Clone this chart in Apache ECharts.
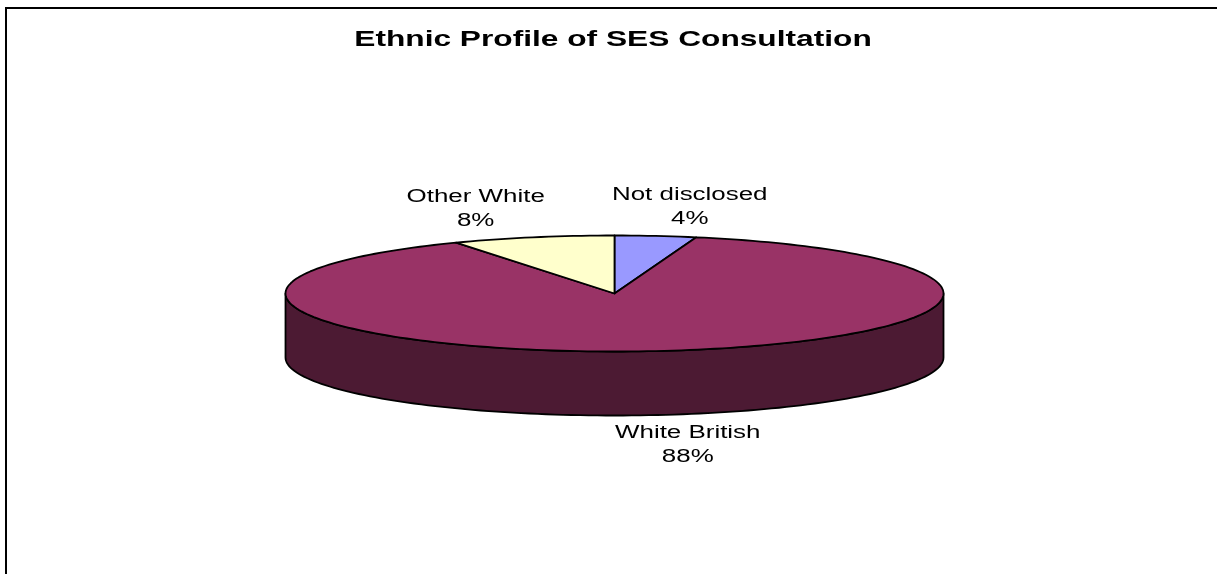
<!DOCTYPE html>
<html>
<head>
<meta charset="utf-8">
<title>Ethnic Profile of SES Consultation</title>
<script src="https://cdn.jsdelivr.net/npm/echarts@6/dist/echarts.min.js"></script>
<style>
  html, body { margin: 0; padding: 0; background: #fff; }
  #chart { width: 1217px; height: 574px; }
</style>
</head>
<body>
<div id="chart"></div>
<script>
// Slices run clockwise from twelve o'clock.
const categories = ['Not disclosed', 'White British', 'Other White'];
const shares = [4, 88, 8];

const topColors = ['#9999FF', '#993366', '#FFFFCC'];
const wallColors = ['#4D4D80', '#4C1A33', '#808066'];
const labelOffsets = [[34, -28.5], [32, 93.5], [-57, -28]];

const disc = { cx: 614.5, cy: 293.5, rx: 329, ry: 58, depth: 64 };
const textStretch = 1.44;
const total = shares.reduce((a, b) => a + b, 0);

function rimPoint(deg, drop) {
  const t = deg * Math.PI / 180;
  return [disc.cx + disc.rx * Math.sin(t), disc.cy + drop - disc.ry * Math.cos(t)];
}

function sliceRange(index) {
  let before = 0;
  for (let i = 0; i < index; i++) before += shares[i];
  return [before / total * 360, (before + shares[index]) / total * 360];
}

function arc(from, to, drop) {
  const pts = [];
  const steps = Math.max(2, Math.ceil((to - from) / 1.5));
  for (let i = 0; i <= steps; i++) pts.push(rimPoint(from + (to - from) * i / steps, drop));
  return pts;
}

// Visible part of the cylinder wall: only the front half of the rim.
function renderWall(params, api) {
  const i = api.value(0);
  const [a, b] = sliceRange(i);
  const from = Math.max(a, 90), to = Math.min(b, 270);
  if (to <= from) return null;
  const points = arc(from, to, 0).concat(arc(from, to, disc.depth).reverse());
  return {
    type: 'polygon',
    shape: { points },
    style: { fill: wallColors[i], stroke: '#000', lineWidth: 1.8, lineJoin: 'round' }
  };
}

function renderTop(params, api) {
  const i = api.value(0);
  const [a, b] = sliceRange(i);
  const points = [[disc.cx, disc.cy]].concat(arc(a, b, 0));
  const mid = rimPoint((a + b) / 2, 0);
  const [dx, dy] = labelOffsets[i];
  return {
    type: 'group',
    children: [
      {
        type: 'polygon',
        shape: { points },
        style: { fill: topColors[i], stroke: '#000', lineWidth: 1.8, lineJoin: 'round' }
      },
      {
        type: 'text',
        x: mid[0] + dx,
        y: mid[1] + dy,
        scaleX: textStretch,
        z2: 5,
        style: {
          text: categories[i] + '\n' + api.value(1) + '%',
          font: '18px "Liberation Sans", Arial, sans-serif',
          lineHeight: 24,
          fill: '#000',
          align: 'center',
          verticalAlign: 'middle'
        }
      }
    ]
  };
}

const rows = shares.map((v, i) => [i, v]);

const chart = echarts.init(document.getElementById('chart'), null, { renderer: 'canvas' });
chart.setOption({
  animation: false,
  backgroundColor: '#fff',
  graphic: [
    {
      type: 'polyline',
      shape: { points: [[6, 574], [6, 8], [1217, 8]] },
      style: { fill: null, stroke: '#000', lineWidth: 2 }
    },
    {
      type: 'text',
      x: 613,
      y: 40,
      scaleX: textStretch,
      style: {
        text: 'Ethnic Profile of SES Consultation',
        font: 'bold 22px "Liberation Sans", Arial, sans-serif',
        fill: '#000',
        align: 'center',
        verticalAlign: 'middle'
      }
    }
  ],
  series: [
    { type: 'custom', coordinateSystem: 'none', data: rows, renderItem: renderWall, z: 1, silent: true },
    { type: 'custom', coordinateSystem: 'none', data: rows, renderItem: renderTop, z: 2, silent: true }
  ]
});
</script>
</body>
</html>
